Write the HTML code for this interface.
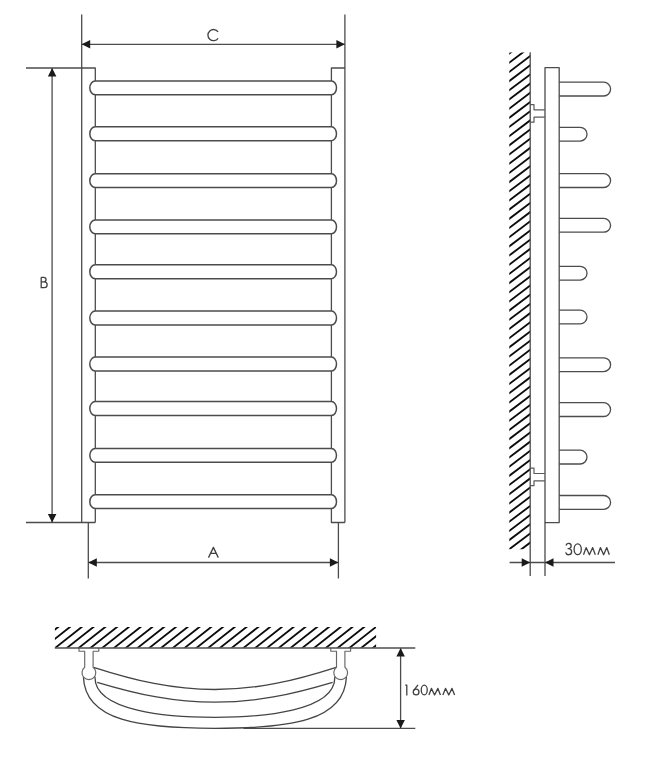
<!DOCTYPE html>
<html><head><meta charset="utf-8"><title>Radiator</title>
<style>
html,body{margin:0;padding:0;background:#fff;}
body{width:649px;height:777px;overflow:hidden;font-family:"Liberation Sans",sans-serif;}
svg{display:block;}
.l{stroke:#4c4c4c;stroke-width:1.3;fill:none;stroke-linejoin:round;}
.f{stroke:#4c4c4c;stroke-width:1.3;fill:#fff;stroke-linejoin:round;}
.c{stroke:#444;stroke-width:1.3;fill:none;}
.a{fill:#1a1a1a;stroke:none;}
.h{stroke:#0c0c0c;stroke-width:1.85;fill:none;stroke-linecap:round;}
.t{stroke:#404040;stroke-width:1.3;fill:none;stroke-linejoin:round;stroke-linecap:butt;}
text{font-family:"Liberation Sans",sans-serif;fill:#444;}
</style></head><body>
<svg width="649" height="777" viewBox="0 0 649 777">
<defs>
<clipPath id="cw1"><rect x="509.3" y="52.6" width="20.9" height="496.6"/></clipPath>
<clipPath id="cw2"><rect x="54.9" y="627.1" width="321.2" height="20.6"/></clipPath>
</defs>
<rect x="0" y="0" width="649" height="777" fill="#fff"/>

<!-- front view -->
<path class="l" d="M81.7 14.5V522.5 M26 68.0H95.3V522.5 M26 522.5H95.3"/>
<path class="l" d="M344.9 14.5V522.5 M344.9 68.0H331.4V522.5H344.9"/>
<path class="l" d="M88.3 522.5V578.5 M338.4 522.5V578.5"/>
<path class="f" style="stroke-width:1.5" d="M95.3 80.9H331.4A5.1 6.95 0 0 1 331.4 94.8H95.3A5.5 6.95 0 0 1 95.3 80.9Z"/>
<path class="f" style="stroke-width:1.5" d="M95.3 126.8H331.4A5.1 6.95 0 0 1 331.4 140.7H95.3A5.5 6.95 0 0 1 95.3 126.8Z"/>
<path class="f" style="stroke-width:1.5" d="M95.3 173.7H331.4A5.1 6.95 0 0 1 331.4 187.6H95.3A5.5 6.95 0 0 1 95.3 173.7Z"/>
<path class="f" style="stroke-width:1.5" d="M95.3 219.9H331.4A5.1 6.95 0 0 1 331.4 233.8H95.3A5.5 6.95 0 0 1 95.3 219.9Z"/>
<path class="f" style="stroke-width:1.5" d="M95.3 264.8H331.4A5.1 6.95 0 0 1 331.4 278.7H95.3A5.5 6.95 0 0 1 95.3 264.8Z"/>
<path class="f" style="stroke-width:1.5" d="M95.3 311.1H331.4A5.1 6.95 0 0 1 331.4 325.0H95.3A5.5 6.95 0 0 1 95.3 311.1Z"/>
<path class="f" style="stroke-width:1.5" d="M95.3 357.1H331.4A5.1 6.95 0 0 1 331.4 371.0H95.3A5.5 6.95 0 0 1 95.3 357.1Z"/>
<path class="f" style="stroke-width:1.5" d="M95.3 401.6H331.4A5.1 6.95 0 0 1 331.4 415.5H95.3A5.5 6.95 0 0 1 95.3 401.6Z"/>
<path class="f" style="stroke-width:1.5" d="M95.3 448.4H331.4A5.1 6.95 0 0 1 331.4 462.3H95.3A5.5 6.95 0 0 1 95.3 448.4Z"/>
<path class="f" style="stroke-width:1.5" d="M95.3 494.7H331.4A5.1 6.95 0 0 1 331.4 508.6H95.3A5.5 6.95 0 0 1 95.3 494.7Z"/>
<path class="l" d="M81.7 44.3H344.9"/>
<path class="a" d="M81.7 44.3L90.2 40.05L90.2 48.55Z"/>
<path class="a" d="M344.9 44.3L336.4 40.05L336.4 48.55Z"/>
<path class="l" d="M52.1 68.0V522.5"/>
<path class="a" d="M52.1 68.0L47.85 76.5L56.35 76.5Z"/>
<path class="a" d="M52.1 522.5L47.85 514.0L56.35 514.0Z"/>
<path class="l" d="M88.3 562.5H338.4"/>
<path class="a" d="M88.3 562.5L96.8 558.25L96.8 566.75Z"/>
<path class="a" d="M338.4 562.5L329.9 558.25L329.9 566.75Z"/>
<path class="t" d="M218.1 31.9A5.6 5.6 0 1 0 218.1 38.3"/>
<path class="t" d="M208.5 557.6L213.4 547.4L218.3 557.6M210.4 553.3H216.4"/>
<path class="t" d="M41.2 277.3V287.7H44.2A2.95 2.95 0 0 0 44.2 281.8H41.2M43.8 281.8A2.25 2.25 0 0 0 43.8 277.3H41.2"/>
<!-- side view -->
<g clip-path="url(#cw1)"><path class="h" d="M508.3 54.26L531.2 36.95 M508.3 63.44L531.2 46.12 M508.3 72.61L531.2 55.30 M508.3 81.79L531.2 64.48 M508.3 90.97L531.2 73.67 M508.3 100.16L531.2 82.85 M508.3 109.33L531.2 92.03 M508.3 118.51L531.2 101.20 M508.3 127.69L531.2 110.39 M508.3 136.88L531.2 119.57 M508.3 146.06L531.2 128.75 M508.3 155.23L531.2 137.92 M508.3 164.41L531.2 147.10 M508.3 173.59L531.2 156.28 M508.3 182.77L531.2 165.46 M508.3 191.95L531.2 174.64 M508.3 201.13L531.2 183.82 M508.3 210.31L531.2 193.00 M508.3 219.50L531.2 202.19 M508.3 228.67L531.2 211.36 M508.3 237.85L531.2 220.54 M508.3 247.03L531.2 229.72 M508.3 256.21L531.2 238.90 M508.3 265.39L531.2 248.08 M508.3 274.57L531.2 257.26 M508.3 283.75L531.2 266.44 M508.3 292.94L531.2 275.62 M508.3 302.12L531.2 284.81 M508.3 311.29L531.2 293.98 M508.3 320.47L531.2 303.16 M508.3 329.65L531.2 312.34 M508.3 338.83L531.2 321.52 M508.3 348.01L531.2 330.70 M508.3 357.19L531.2 339.88 M508.3 366.38L531.2 349.06 M508.3 375.56L531.2 358.25 M508.3 384.74L531.2 367.43 M508.3 393.91L531.2 376.60 M508.3 403.09L531.2 385.78 M508.3 412.27L531.2 394.96 M508.3 421.45L531.2 404.14 M508.3 430.63L531.2 413.32 M508.3 439.81L531.2 422.50 M508.3 449.00L531.2 431.69 M508.3 458.17L531.2 440.86 M508.3 467.35L531.2 450.04 M508.3 476.53L531.2 459.22 M508.3 485.71L531.2 468.40 M508.3 494.89L531.2 477.58 M508.3 504.07L531.2 486.76 M508.3 513.25L531.2 495.94 M508.3 522.44L531.2 505.13 M508.3 531.62L531.2 514.31 M508.3 540.79L531.2 523.49 M508.3 549.98L531.2 532.67 M508.3 559.15L531.2 541.85 M508.3 568.33L531.2 551.02"/></g>
<path fill="#fff" d="M545 67.7H559.2V522.6H545Z"/>
<path class="f" d="M559.2 82.2H603.7A6.9 6.9 0 0 1 603.7 96.0H559.2"/>
<path class="f" d="M559.2 127.3H580.1A6.9 6.9 0 0 1 580.1 141.1H559.2"/>
<path class="f" d="M559.2 173.7H603.7A6.9 6.9 0 0 1 603.7 187.5H559.2"/>
<path class="f" d="M559.2 218.4H603.7A6.9 6.9 0 0 1 603.7 232.20000000000002H559.2"/>
<path class="f" d="M559.2 266.3H580.1A6.9 6.9 0 0 1 580.1 280.1H559.2"/>
<path class="f" d="M559.2 310.1H580.1A6.9 6.9 0 0 1 580.1 323.90000000000003H559.2"/>
<path class="f" d="M559.2 357.8H603.7A6.9 6.9 0 0 1 603.7 371.6H559.2"/>
<path class="f" d="M559.2 402.7H603.7A6.9 6.9 0 0 1 603.7 416.5H559.2"/>
<path class="f" d="M559.2 450.2H580.1A6.9 6.9 0 0 1 580.1 464.0H559.2"/>
<path class="f" d="M559.2 495.5H603.7A6.9 6.9 0 0 1 603.7 509.3H559.2"/>
<path class="l" d="M545 67.7H559.2V522.6H545Z"/>
<path class="f" style="stroke:#5a5a5a;stroke-width:1.2" d="M530.2 104.6H534V109.8H545 M545 117.1H534V122.2H530.2"/>
<path class="f" style="stroke:#5a5a5a;stroke-width:1.2" d="M530.2 468.1H534V473.5H545 M545 480.8H534V485.7H530.2"/>
<path class="l" d="M530.2 52.2V576 M545 522.6V576"/>
<path class="l" d="M509.6 562.5H615"/>
<path class="a" d="M530.2 562.5L521.7 558.25L521.7 566.75Z"/>
<path class="a" d="M545 562.5L553.5 558.25L553.5 566.75Z"/>
<path class="t" d="M566.0 545.5A2.6 2.6 0 1 1 568.5 548.6M567.6 548.6H568.6A3.05 3.05 0 1 1 565.6 552.4"/>
<ellipse class="t" cx="577.7" cy="549.25" rx="3.6" ry="5.4"/>
<path class="t" d="M583.5 554.7L586.1 547.6L589.4 554.7L592.7 547.6L595.3 554.7 M597.9 554.7L600.4 547.6L603.6 554.7L606.8 547.6L609.3 554.7"/>
<!-- top view -->
<g clip-path="url(#cw2)"><path class="h" d="M19.22 648.4L47.56 626.1 M30.99 648.4L59.33 626.1 M42.76 648.4L71.10 626.1 M54.53 648.4L82.87 626.1 M66.30 648.4L94.64 626.1 M78.07 648.4L106.41 626.1 M89.84 648.4L118.18 626.1 M101.61 648.4L129.95 626.1 M113.38 648.4L141.72 626.1 M125.15 648.4L153.49 626.1 M136.92 648.4L165.26 626.1 M148.69 648.4L177.03 626.1 M160.46 648.4L188.80 626.1 M172.23 648.4L200.57 626.1 M184.00 648.4L212.34 626.1 M195.77 648.4L224.11 626.1 M207.54 648.4L235.88 626.1 M219.31 648.4L247.65 626.1 M231.08 648.4L259.42 626.1 M242.85 648.4L271.19 626.1 M254.62 648.4L282.96 626.1 M266.39 648.4L294.73 626.1 M278.16 648.4L306.50 626.1 M289.93 648.4L318.27 626.1 M301.70 648.4L330.04 626.1 M313.47 648.4L341.81 626.1 M325.24 648.4L353.58 626.1 M337.01 648.4L365.35 626.1 M348.78 648.4L377.12 626.1 M360.55 648.4L388.89 626.1 M372.32 648.4L400.66 626.1 M384.09 648.4L412.43 626.1 M395.86 648.4L424.20 626.1"/></g>
<path class="l" d="M243.5 728.4H415.3 M400.6 648V728.4"/>
<path class="a" d="M400.6 648L396.35 656.5L404.85 656.5Z"/>
<path class="a" d="M400.6 728.4L396.35 719.9L404.85 719.9Z"/>
<path class="t" d="M405.2 685.2H406.8V695.4"/>
<circle class="t" cx="416.1" cy="692.0" r="2.85"/><path class="t" d="M418.0 684.8L413.6 690.6"/>
<ellipse class="t" cx="424.25" cy="690.05" rx="3.0" ry="4.85"/>
<path class="t" d="M428.9 695.0L431.4 688.4L434.6 695.0L437.9 688.4L440.4 695.0 M442.9 695.0L445.5 688.4L448.8 695.0L452.0 688.4L454.6 695.0"/>
<path class="c" d="M83.4 677.0C85.0 721.1 140.2 728.4 214.9 728.4C289.6 728.4 344.8 721.1 346.4 677.0"/>
<path class="c" d="M95.0 676.5C93.6 711.7 169.5 717.3 214.9 717.3C260.3 717.3 336.2 711.7 334.8 676.5"/>
<path class="c" d="M93.6 667.3C135.6 680.8 172.4 689.5 214.9 689.5C257.4 689.5 294.2 680.8 336.2 667.3"/>
<path class="c" d="M97.2 682.3C138.9 694.8 174.1 702.2 214.9 702.2C255.7 702.2 290.9 694.8 332.6 682.3"/>
<path class="f" style="stroke:#666;stroke-width:1.15" d="M79.0 648V651.2H84.7V667.2A6.9 6.9 0 1 0 93.1 667.2V651.2H98.8V648"/>
<path class="f" style="stroke:#666;stroke-width:1.15" d="M330.8 648V651.2H336.5V667.2A6.9 6.9 0 1 0 344.9 667.2V651.2H350.6V648"/>
<path class="l" d="M54.8 648H415.3"/>
</svg></body></html>
